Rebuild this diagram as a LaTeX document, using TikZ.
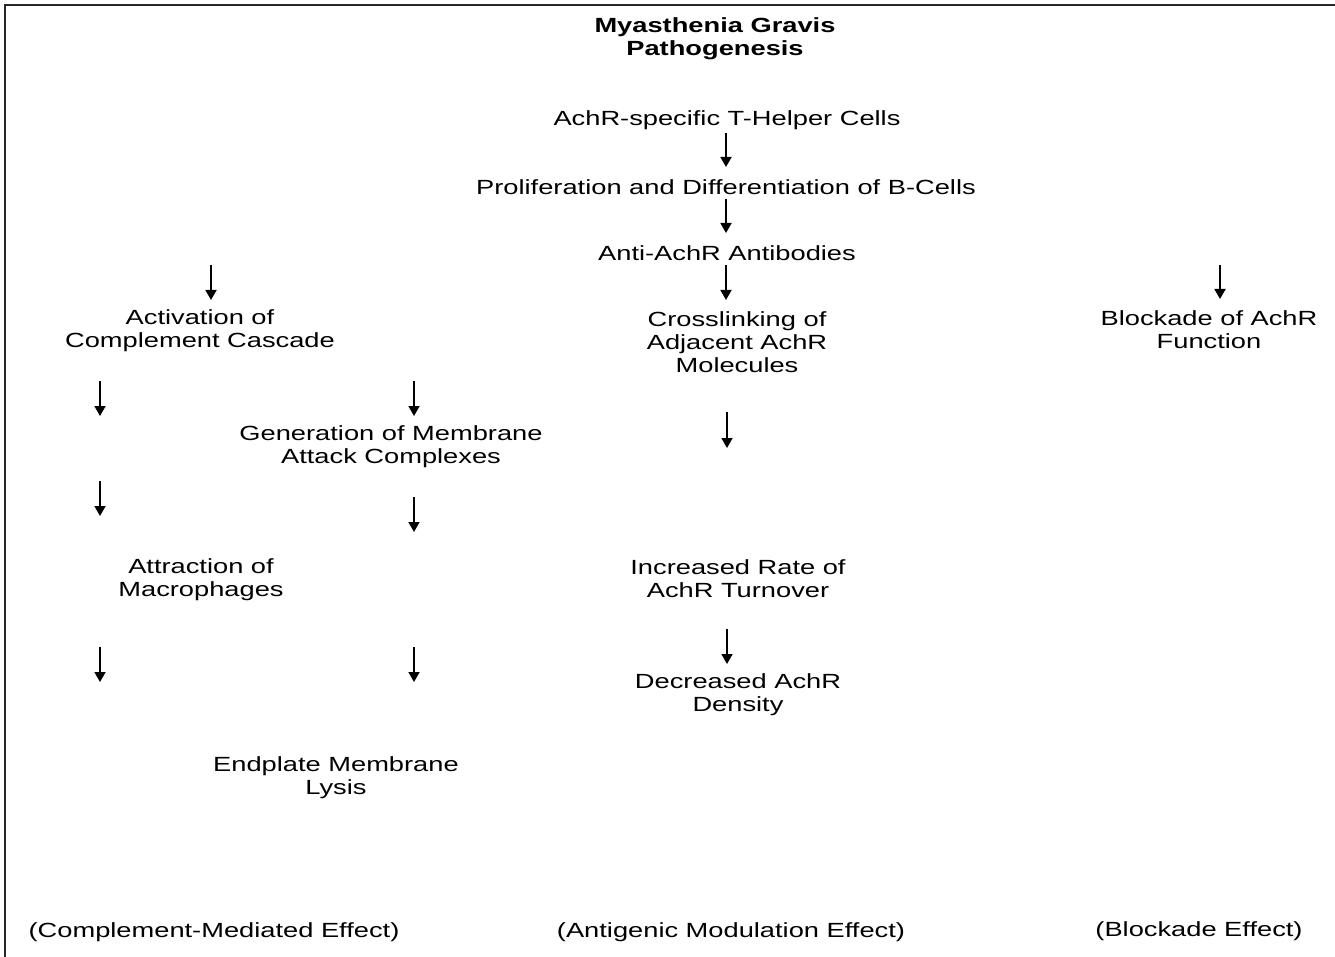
\documentclass[tikz,border=0pt]{standalone}
\usepackage{fontspec}
\setmainfont[FakeStretch=1.33]{Liberation Sans}
\usetikzlibrary{arrows.meta}
\begin{document}
\begin{tikzpicture}[x=1pt,y=-1pt,
  lbl/.style={align=center,inner sep=0pt,font=\fontsize{20.5}{23}\selectfont},
  ttl/.style={lbl,font=\fontsize{20.5}{23}\selectfont\bfseries},
  arr/.style={line width=1.8pt,-{Triangle[length=10pt,width=11pt]}}]
\useasboundingbox[fill=white] (0,0) rectangle (1335,957);
\draw[line width=2pt,color=black!85] (5,957) -- (5,5) -- (1335,5);
% title
\node[ttl] (title) at (715,39) {Myasthenia Gravis\\Pathogenesis};
% central column
\node[lbl] (n1) at (727,120) {AchR-specific T-Helper Cells};
\node[lbl] (n2) at (726,187) {Proliferation and Differentiation of B-Cells};
\node[lbl] (n3) at (727,253) {Anti-AchR Antibodies};
\node[lbl] (n4) at (737,342) {Crosslinking of\\Adjacent AchR\\Molecules};
\node[lbl] (n9) at (738,579) {Increased Rate of\\AchR Turnover};
\node[lbl] (n10) at (738,695) {Decreased AchR\\Density};
% left columns
\node[lbl] (n5) at (200,331) {Activation of\\Complement Cascade};
\node[lbl] (n7) at (391,447) {Generation of Membrane\\Attack Complexes};
\node[lbl] (n8) at (201,580) {Attraction of\\Macrophages};
\node[lbl] (n11) at (336,778) {Endplate Membrane\\Lysis};
% right column
\node[lbl] (n6) at (1209,330) {Blockade of AchR\\Function};
% bottom labels
\node[lbl] (e1) at (214,932) {(Complement-Mediated Effect)};
\node[lbl] (e2) at (731,932) {(Antigenic Modulation Effect)};
\node[lbl] (e3) at (1199,931) {(Blockade Effect)};
% arrow end points
\coordinate (a1s) at (726,133); \coordinate (a1e) at (726,167);
\coordinate (a2s) at (726,199); \coordinate (a2e) at (726,233);
\coordinate (a3s) at (726,265); \coordinate (a3e) at (726,300);
\coordinate (a4s) at (211,265); \coordinate (a4e) at (211,300);
\coordinate (a5s) at (1220,265); \coordinate (a5e) at (1220,299);
\coordinate (a6s) at (100,381); \coordinate (a6e) at (100,416);
\coordinate (a7s) at (414,381); \coordinate (a7e) at (414,416);
\coordinate (a8s) at (727,412); \coordinate (a8e) at (727,448);
\coordinate (a9s) at (100,481); \coordinate (a9e) at (100,516);
\coordinate (a10s) at (414,497); \coordinate (a10e) at (414,532);
\coordinate (a11s) at (727,629); \coordinate (a11e) at (727,664);
\coordinate (a12s) at (100,647); \coordinate (a12e) at (100,682);
\coordinate (a13s) at (414,647); \coordinate (a13e) at (414,682);
\foreach \i in {1,...,13} {\draw[arr] (a\i s) -- (a\i e);}
\end{tikzpicture}
\end{document}
